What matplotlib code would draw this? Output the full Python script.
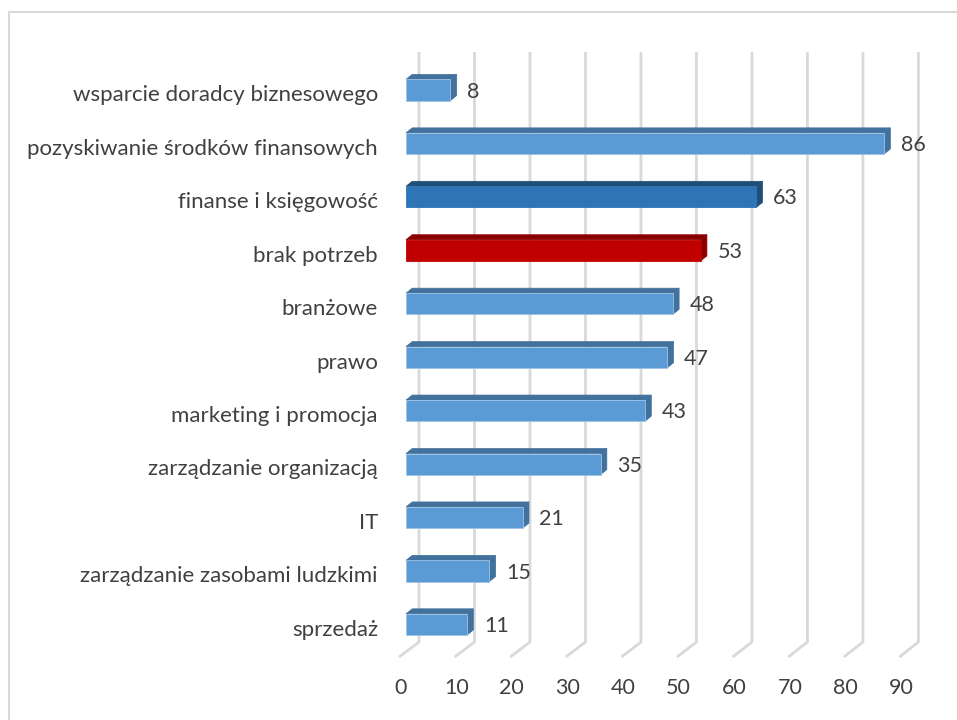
import matplotlib.pyplot as plt
from matplotlib.patches import Polygon, Rectangle

categories = [
    "sprzedaż",
    "zarządzanie zasobami ludzkimi",
    "IT",
    "zarządzanie organizacją",
    "marketing i promocja",
    "prawo",
    "branżowe",
    "brak potrzeb",
    "finanse i księgowość",
    "pozyskiwanie środków finansowych",
    "wsparcie doradcy biznesowego",
]
values = [11, 15, 21, 35, 43, 47, 48, 53, 63, 86, 8]
ticks = [0, 10, 20, 30, 40, 50, 60, 70, 80, 90]

# front / shaded faces for each bar
LIGHT = ("#5b9bd5", "#41719c")
DARK = ("#2e75b6", "#1f4e79")
RED = ("#c00000", "#8a0000")
styles = {"finanse i księgowość": DARK, "brak potrzeb": RED}

TEXT = "#404040"
GRID = "#d9d9d9"

# pseudo-3d geometry, in data units (x: value, y: category index)
BAR_H = 0.395       # height of the bar's front face
DX, DY = 1.12, 0.094  # bar depth offset
FLOOR_FRONT = (-1.26, -0.61)
FLOOR_BACK = (2.34, -0.33)
WALL_TOP = 10.71

plt.rcParams["font.family"] = ["Lato", "DejaVu Sans"]

fig = plt.figure(figsize=(9.57, 7.2), dpi=100)
ax = fig.add_axes([0, 0, 1, 1])
ax.set_xlim(-73.02, 99.10)
ax.set_ylim(-1.789, 11.684)
ax.axis("off")

# outer chart frame
fig.patches.append(Rectangle((9 / 957, -0.01), 1.0, 1 - 12 / 720 + 0.01,
                             transform=fig.transFigure, fill=False,
                             edgecolor=GRID, linewidth=1.5))

# back-wall gridlines and floor lines
for t in ticks:
    xf, yf = t + FLOOR_FRONT[0], FLOOR_FRONT[1]
    xb, yb = t * 0.998 + FLOOR_BACK[0], FLOOR_BACK[1]
    ax.plot([xf, xb, xb], [yf, yb, WALL_TOP], color=GRID, lw=2.0,
            solid_capstyle="butt", zorder=1)
    ax.text(xf + 0.3, -1.19, str(t), ha="center", va="center",
            fontsize=15.5, color=TEXT)

# bars
for i, (cat, v) in enumerate(zip(categories, values)):
    front, shade = styles.get(cat, LIGHT)
    y0, y1 = i - BAR_H / 2, i + BAR_H / 2
    top = Polygon([(0, y1), (DX, y1 + DY), (v + DX, y1 + DY), (v, y1)],
                  closed=True, facecolor=shade, edgecolor=shade, lw=0.5, zorder=3)
    side = Polygon([(v, y0), (v + DX, y0 + DY), (v + DX, y1 + DY), (v, y1)],
                   closed=True, facecolor=shade, edgecolor=shade, lw=0.5, zorder=3)
    ax.add_patch(top)
    ax.add_patch(side)
    ax.add_patch(Rectangle((0, y0), v, BAR_H, facecolor=front,
                           edgecolor="#9dc3e6" if front == LIGHT[0] else front,
                           lw=0.6, zorder=4))
    ax.text(v + 3.0, i - 0.03, str(v), ha="left", va="center",
            fontsize=15.5, color=TEXT)
    ax.text(-5.04, i - 0.1, cat, ha="right", va="center",
            fontsize=16, color=TEXT)

fig.savefig("out.png", dpi=100, facecolor="white")
